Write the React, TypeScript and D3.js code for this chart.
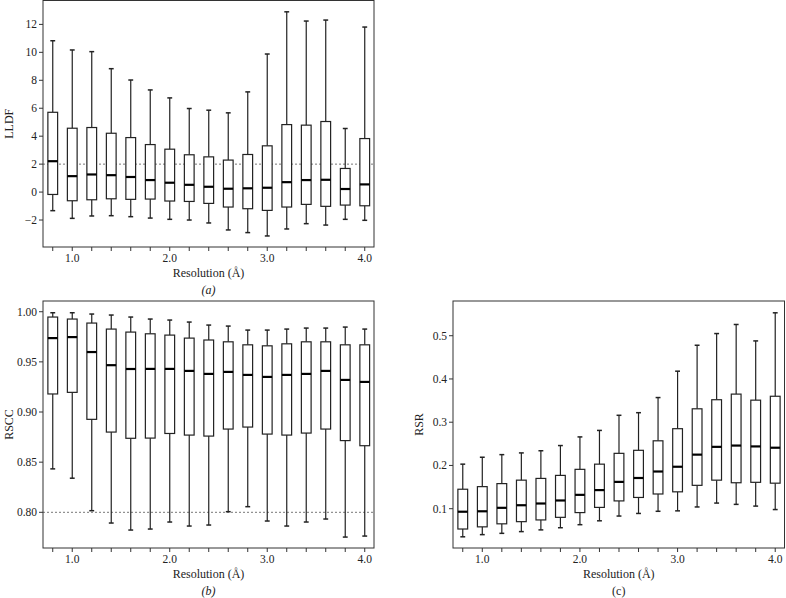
import React from "react";
import * as d3 from "d3";

// resolution bins (Å)
const resolution = [0.8, 1.0, 1.2, 1.4, 1.6, 1.8, 2.0, 2.2, 2.4, 2.6, 2.8, 3.0, 3.2, 3.4, 3.6, 3.8, 4.0];
const xTickLabels = [1.0, 2.0, 3.0, 4.0];

// (a) LLDF
const lldfHigh = [10.83, 10.17, 10.05, 8.83, 8.02, 7.31, 6.74, 5.98, 5.86, 5.67, 7.17, 9.88, 12.9, 12.24, 12.31, 4.55, 11.81];
const lldfQ3 = [5.71, 4.57, 4.62, 4.21, 3.9, 3.4, 3.07, 2.67, 2.52, 2.29, 2.69, 3.31, 4.83, 4.79, 5.05, 1.69, 3.83];
const lldfMed = [2.21, 1.14, 1.26, 1.21, 1.08, 0.86, 0.67, 0.52, 0.38, 0.24, 0.27, 0.31, 0.71, 0.86, 0.88, 0.22, 0.55];
const lldfQ1 = [-0.17, -0.62, -0.55, -0.48, -0.52, -0.5, -0.64, -0.67, -0.81, -1.07, -1.19, -1.31, -1.07, -0.88, -1.02, -0.93, -0.98];
const lldfLow = [-1.33, -1.88, -1.71, -1.69, -1.76, -1.86, -1.95, -2.0, -2.21, -2.71, -2.9, -3.14, -2.64, -2.26, -2.36, -1.95, -2.02];
const lldfTicks = [-2, 0, 2, 4, 6, 8, 10, 12];

// (b) RSCC
const rsccHigh = [0.999, 0.999, 0.9977, 0.9967, 0.9947, 0.9927, 0.9917, 0.9897, 0.9867, 0.9857, 0.9817, 0.9817, 0.9827, 0.9837, 0.9837, 0.9847, 0.9827];
const rsccQ3 = [0.9947, 0.9927, 0.9887, 0.9827, 0.9797, 0.978, 0.9767, 0.9737, 0.9718, 0.97, 0.967, 0.966, 0.968, 0.97, 0.97, 0.967, 0.967];
const rsccMed = [0.9737, 0.9747, 0.9598, 0.9467, 0.9429, 0.943, 0.943, 0.941, 0.938, 0.94, 0.937, 0.935, 0.937, 0.938, 0.941, 0.932, 0.93];
const rsccQ1 = [0.918, 0.9196, 0.8927, 0.88, 0.8738, 0.874, 0.8786, 0.877, 0.876, 0.883, 0.885, 0.878, 0.877, 0.879, 0.883, 0.8715, 0.8664];
const rsccLow = [0.8433, 0.834, 0.8016, 0.7893, 0.7823, 0.7833, 0.7903, 0.7863, 0.7873, 0.8006, 0.8056, 0.7913, 0.7863, 0.7903, 0.7933, 0.7753, 0.7763];
const rsccTicks = [0.8, 0.85, 0.9, 0.95, 1.0];

// (c) RSR
const rsrHigh = [0.203, 0.219, 0.225, 0.229, 0.234, 0.246, 0.266, 0.281, 0.316, 0.322, 0.357, 0.418, 0.478, 0.505, 0.526, 0.488, 0.553];
const rsrQ3 = [0.145, 0.151, 0.158, 0.166, 0.17, 0.177, 0.191, 0.203, 0.228, 0.235, 0.257, 0.285, 0.331, 0.352, 0.365, 0.351, 0.36];
const rsrMed = [0.093, 0.094, 0.102, 0.108, 0.112, 0.119, 0.132, 0.143, 0.162, 0.171, 0.186, 0.197, 0.225, 0.243, 0.246, 0.244, 0.241];
const rsrQ1 = [0.053, 0.058, 0.065, 0.07, 0.074, 0.08, 0.091, 0.103, 0.118, 0.126, 0.134, 0.139, 0.154, 0.166, 0.16, 0.161, 0.159];
const rsrLow = [0.035, 0.04, 0.043, 0.047, 0.051, 0.056, 0.063, 0.072, 0.083, 0.089, 0.094, 0.095, 0.104, 0.113, 0.11, 0.106, 0.098];
const rsrTicks = [0.1, 0.2, 0.3, 0.4, 0.5];

const font = "Liberation Serif, Times New Roman, DejaVu Serif, serif";
const ink = "#222";

function BoxPanel({ left, top, width, height, domain, yTicks, fmt, high, q3, med, q1, low, yLabel, panelLabel, italic, refLine }) {
  const x = d3.scaleLinear().domain([0.7, 4.095]).range([0, width]);
  const y = d3.scaleLinear().domain(domain).range([height, 0]);
  const boxW = x(0.9) - x(0.8);
  const capW = boxW / 2;

  return (
    <g transform={`translate(${left},${top})`} style={{ fontFamily: font }} fill={ink}>
      {refLine !== undefined && (
        <line x1={0} x2={width} y1={y(refLine)} y2={y(refLine)} stroke="#777" strokeWidth={1} strokeDasharray="2,2" />
      )}
      {resolution.map((r, i) => {
        const cx = x(r);
        return (
          <g key={i} stroke={ink} fill="none">
            <line x1={cx} x2={cx} y1={y(q3[i])} y2={y(high[i])} strokeWidth={1.2} />
            <line x1={cx} x2={cx} y1={y(q1[i])} y2={y(low[i])} strokeWidth={1.2} />
            <line x1={cx - capW / 2} x2={cx + capW / 2} y1={y(high[i])} y2={y(high[i])} strokeWidth={1.5} />
            <line x1={cx - capW / 2} x2={cx + capW / 2} y1={y(low[i])} y2={y(low[i])} strokeWidth={1.5} />
            <rect x={cx - boxW / 2} y={y(q3[i])} width={boxW} height={y(q1[i]) - y(q3[i])} fill="#fff" strokeWidth={1.2} />
            <line x1={cx - boxW / 2} x2={cx + boxW / 2} y1={y(med[i])} y2={y(med[i])} stroke="#000" strokeWidth={2.2} />
          </g>
        );
      })}
      <rect x={0} y={0} width={width} height={height} fill="none" stroke="#333" strokeWidth={1} />
      {/* y axis */}
      {yTicks.map((t) => (
        <g key={t} transform={`translate(0,${y(t)})`}>
          <line x1={-4} x2={0} stroke="#333" />
          <text x={-6} dy="0.35em" textAnchor="end" fontSize={11.5} stroke="none">{fmt(t)}</text>
        </g>
      ))}
      {/* x axis */}
      {resolution.map((r) => (
        <line key={r} x1={x(r)} x2={x(r)} y1={height} y2={height + 4} stroke="#333" />
      ))}
      {xTickLabels.map((t) => (
        <text key={t} x={x(t)} y={height + 14.5} textAnchor="middle" fontSize={11.5}>{d3.format(".1f")(t)}</text>
      ))}
      <text x={width / 2} y={height + 30} textAnchor="middle" fontSize={12}>Resolution (Å)</text>
      <text x={width / 2} y={height + 46.5} textAnchor="middle" fontSize={12} fontStyle={italic ? "italic" : "normal"}>
        ({panelLabel})
      </text>
      <text transform={`translate(${-30},${height / 2}) rotate(-90)`} textAnchor="middle" fontSize={12}>{yLabel}</text>
    </g>
  );
}

export default function App() {
  return (
    <svg width={786} height={598} style={{ position: "absolute", left: 0, top: 0, background: "#fff" }}>
      <BoxPanel left={43} top={0.5} width={331} height={246.5} domain={[-3.93, 13.71]} yTicks={lldfTicks}
        fmt={(t) => (t < 0 ? "\u2212" + Math.abs(t) : String(t))}
        high={lldfHigh} q3={lldfQ3} med={lldfMed} q1={lldfQ1} low={lldfLow}
        yLabel="LLDF" panelLabel="a" italic refLine={2} />
      <BoxPanel left={43} top={301} width={331} height={247} domain={[0.7644, 1.0107]} yTicks={rsccTicks}
        fmt={d3.format(".2f")}
        high={rsccHigh} q3={rsccQ3} med={rsccMed} q1={rsccQ1} low={rsccLow}
        yLabel="RSCC" panelLabel="b" italic refLine={0.8} />
      <BoxPanel left={453} top={301} width={331.5} height={247} domain={[0.0091, 0.5803]} yTicks={rsrTicks}
        fmt={d3.format(".1f")}
        high={rsrHigh} q3={rsrQ3} med={rsrMed} q1={rsrQ1} low={rsrLow}
        yLabel="RSR" panelLabel="c" italic={false} />
    </svg>
  );
}
